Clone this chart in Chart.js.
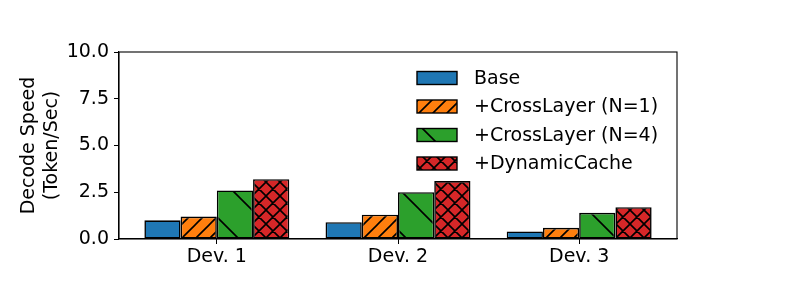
<!DOCTYPE html>
<html>
<head>
<meta charset="utf-8">
<script src="https://cdn.jsdelivr.net/npm/chart.js@4"></script>
<style>
  html, body { margin: 0; padding: 0; background: #fff; }
  canvas { display: block; }
</style>
</head>
<body>
<canvas id="chart" width="797" height="299"></canvas>
<script>
const categories = ['Dev. 1', 'Dev. 2', 'Dev. 3'];
const seriesNames = ['Base', '+CrossLayer (N=1)', '+CrossLayer (N=4)', '+DynamicCache'];
const baseVals = [1.0, 0.9, 0.4];
const crossN1Vals = [1.2, 1.3, 0.6];
const crossN4Vals = [2.6, 2.5, 1.4];
const dynCacheVals = [3.2, 3.1, 1.7];
const yTicks = [0, 2.5, 5, 7.5, 10];

const colors = ['#1f77b4', '#ff7f0e', '#2ca02c', '#d62728'];
const FONT = 'DejaVu Sans';
const FS = 19;

// hatch tiles: kind '/' or '\\' or 'x', spacing in px
function hatch(color, kind, s) {
    const c = document.createElement('canvas');
    c.width = s; c.height = s;
    const g = c.getContext('2d');
    g.fillStyle = color;
    g.fillRect(0, 0, s, s);
    if (kind) {
        g.strokeStyle = '#000';
        g.lineWidth = 1.6;
        g.beginPath();
        if (kind === '/' || kind === 'x') {
            for (const o of [-s, 0, s]) { g.moveTo(o - 1, s + 1); g.lineTo(o + s + 1, -1); }
        }
        if (kind === '\\' || kind === 'x') {
            for (const o of [-s, 0, s]) { g.moveTo(o - 1, -1); g.lineTo(o + s + 1, s + 1); }
        }
        g.stroke();
    }
    return document.getElementById('chart').getContext('2d').createPattern(c, 'repeat');
}

const fills = [
    colors[0],
    hatch(colors[1], '/', 14),
    hatch(colors[2], '\\', 42),
    hatch(colors[3], 'x', 14)
];

const allVals = [baseVals, crossN1Vals, crossN4Vals, dynCacheVals];

const datasets = allVals.map((vals, i) => ({
    label: seriesNames[i],
    data: vals.map((v, j) => ({ x: j, y: v })),
    backgroundColor: fills[i],
    borderColor: '#000',
    borderWidth: 1.6,
    borderSkipped: false,
    categoryPercentage: 0.8,
    barPercentage: 1.0
}));

const frame = {
    id: 'frame',
    afterDatasetsDraw(chart) {
        const { ctx, chartArea: a } = chart;
        ctx.save();
        ctx.strokeStyle = '#000';
        ctx.lineWidth = 1.1;
        ctx.strokeRect(a.left, a.top, a.right - a.left, a.bottom - a.top);
        ctx.restore();
    }
};

const legendInside = {
    id: 'legendInside',
    afterDraw(chart) {
        const { ctx, chartArea: a } = chart;
        ctx.save();
        ctx.font = FS + 'px "' + FONT + '"';
        ctx.textBaseline = 'middle';
        ctx.textAlign = 'left';
        chart.data.datasets.forEach((ds, i) => {
            const x = a.left + 298;
            const y = a.top + 26 + i * 28.5;
            ctx.fillStyle = ds.backgroundColor;
            ctx.fillRect(x, y - 6.5, 40, 13);
            ctx.strokeStyle = '#000';
            ctx.lineWidth = 1.4;
            ctx.strokeRect(x, y - 6.5, 40, 13);
            ctx.fillStyle = '#000';
            ctx.fillText(ds.label, x + 57, y + 1);
        });
        ctx.restore();
    }
};

Chart.defaults.font.family = FONT;
Chart.defaults.color = '#000';

new Chart(document.getElementById('chart'), {
    type: 'bar',
    data: { datasets: datasets },
    options: {
        responsive: false,
        animation: false,
        devicePixelRatio: 1,
        layout: { padding: { left: 0, top: 52, right: 120, bottom: 0 } },
        plugins: { legend: { display: false }, tooltip: { enabled: false } },
        scales: {
            x: {
                type: 'linear',
                min: -0.54,
                max: 2.54,
                offset: false,
                grid: { display: true, drawOnChartArea: false, offset: false, tickLength: 5, color: '#000', tickWidth: 1 },
                border: { display: true, color: '#000', width: 1.1 },
                afterBuildTicks: (scale) => { scale.ticks = categories.map((c, i) => ({ value: i })); },
                ticks: {
                    font: { size: FS },
                    padding: 2,
                    maxRotation: 0,
                    autoSkip: false,
                    callback: (v) => categories[v]
                },
                afterFit: (scale) => { scale.height = 60; }
            },
            y: {
                min: 0,
                max: 10,
                grid: { display: true, drawOnChartArea: false, tickLength: 5, color: '#000', tickWidth: 1 },
                border: { display: true, color: '#000', width: 1.1 },
                afterBuildTicks: (scale) => { scale.ticks = yTicks.map(v => ({ value: v })); },
                ticks: {
                    font: { size: FS },
                    padding: 5,
                    callback: (v) => v.toFixed(1)
                },
                title: {
                    display: true,
                    text: ['Decode Speed', '(Token/Sec)'],
                    font: { size: FS, lineHeight: 1.2 },
                    padding: { top: 17.5, bottom: 0 }
                },
                afterFit: (scale) => { scale.width = 119; }
            }
        }
    },
    plugins: [frame, legendInside]
});
</script>
</body>
</html>
